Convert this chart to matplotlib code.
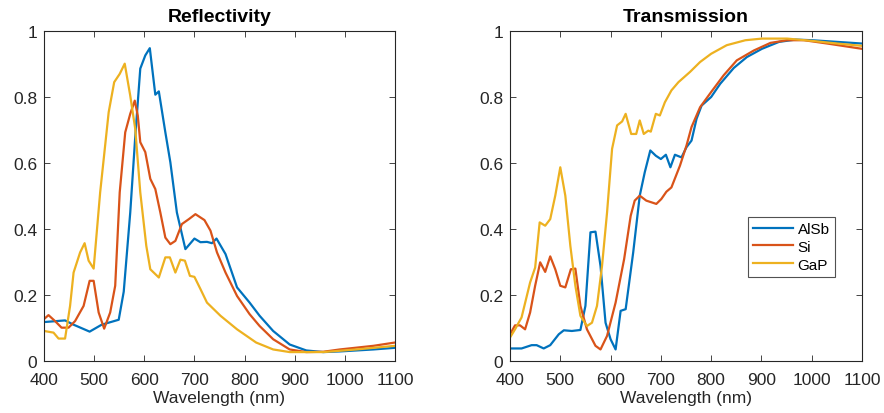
import matplotlib
matplotlib.use("Agg")
import matplotlib.pyplot as plt

plt.rcParams['font.family'] = ['Liberation Sans', 'DejaVu Sans']

# Reflectivity data (wavelength nm, value)
r_alsb_wl = [400, 442, 459, 491, 515, 549, 559, 572, 582, 592, 602, 611, 622, 629, 642, 652, 665, 682,
             700, 712, 725, 735, 744, 762, 785, 810, 830, 857, 890, 923, 957, 990, 1057, 1100]
r_alsb = [0.118, 0.123, 0.11, 0.089, 0.11, 0.125, 0.21, 0.45, 0.68, 0.886, 0.926, 0.948, 0.807, 0.817,
          0.693, 0.602, 0.45, 0.339, 0.371, 0.36, 0.361, 0.357, 0.371, 0.324, 0.223, 0.177, 0.137, 0.091,
          0.05, 0.032, 0.027, 0.029, 0.035, 0.04]

r_si_wl = [400, 409, 422, 435, 449, 462, 479, 491, 499, 509, 520, 532, 542, 551, 562, 572, 581, 587, 592,
           602, 612, 622, 632, 642, 652, 662, 675, 689, 702, 720, 732, 745, 762, 785, 810, 830, 857, 890,
           923, 957, 990, 1057, 1100]
r_si = [0.127, 0.139, 0.121, 0.101, 0.101, 0.121, 0.167, 0.243, 0.243, 0.147, 0.098, 0.147, 0.228, 0.511,
        0.693, 0.749, 0.789, 0.744, 0.663, 0.633, 0.552, 0.521, 0.45, 0.374, 0.354, 0.364, 0.415, 0.43,
        0.445, 0.427, 0.395, 0.329, 0.268, 0.197, 0.142, 0.106, 0.066, 0.035, 0.027, 0.028, 0.035, 0.046,
        0.056]

r_gap_wl = [400, 419, 429, 442, 452, 459, 472, 481, 489, 499, 512, 529, 540, 551, 561, 572, 582, 592, 604,
            612, 629, 642, 651, 662, 672, 681, 691, 700, 712, 725, 752, 785, 823, 857, 890, 957, 1023, 1100]
r_gap = [0.091, 0.086, 0.068, 0.068, 0.167, 0.268, 0.329, 0.357, 0.304, 0.28, 0.511, 0.754, 0.845, 0.87,
         0.901, 0.804, 0.703, 0.511, 0.349, 0.278, 0.253, 0.314, 0.314, 0.268, 0.307, 0.304, 0.258, 0.255,
         0.218, 0.177, 0.137, 0.096, 0.056, 0.035, 0.027, 0.027, 0.035, 0.046]

# Transmission data
t_alsb_wl = [400, 423, 443, 453, 467, 480, 497, 507, 523, 540, 550, 560, 570, 580, 590, 600, 610, 620,
             630, 645, 658, 668, 679, 690, 700, 710, 719, 728, 741, 751, 761, 771, 781, 800, 818, 845, 871,
             901, 935, 968, 1001, 1051, 1100]
t_alsb = [0.038, 0.038, 0.048, 0.048, 0.038, 0.048, 0.081, 0.093, 0.091, 0.094, 0.167, 0.39, 0.392, 0.288,
          0.116, 0.066, 0.035, 0.152, 0.157, 0.329, 0.501, 0.572, 0.638, 0.622, 0.612, 0.625, 0.587, 0.625,
          0.617, 0.648, 0.668, 0.734, 0.774, 0.8, 0.84, 0.888, 0.921, 0.946, 0.967, 0.974, 0.972, 0.967,
          0.962]

t_si_wl = [400, 410, 420, 430, 440, 450, 460, 470, 480, 490, 500, 510, 521, 530, 540, 553, 570, 580, 593,
           610, 627, 640, 648, 658, 671, 691, 701, 711, 721, 738, 751, 761, 778, 800, 825, 851, 885, 918,
           951, 985, 1031, 1100]
t_si = [0.081, 0.108, 0.108, 0.096, 0.147, 0.228, 0.299, 0.27, 0.317, 0.278, 0.228, 0.223, 0.278, 0.28,
        0.167, 0.096, 0.046, 0.035, 0.076, 0.177, 0.309, 0.44, 0.486, 0.501, 0.486, 0.476, 0.491, 0.513,
        0.526, 0.592, 0.653, 0.709, 0.769, 0.815, 0.866, 0.911, 0.941, 0.964, 0.972, 0.972, 0.962, 0.946]

t_gap_wl = [400, 410, 423, 440, 450, 459, 470, 480, 490, 500, 510, 520, 530, 540, 553, 563, 573, 583, 593,
            603, 613, 623, 630, 641, 651, 658, 666, 675, 680, 690, 698, 708, 721, 735, 758, 778, 800, 831,
            868, 901, 951, 1001, 1051, 1100]
t_gap = [0.071, 0.096, 0.132, 0.238, 0.283, 0.42, 0.41, 0.43, 0.501, 0.587, 0.501, 0.349, 0.228, 0.137,
         0.106, 0.116, 0.167, 0.288, 0.45, 0.643, 0.714, 0.726, 0.749, 0.688, 0.688, 0.729, 0.688, 0.698,
         0.695, 0.749, 0.744, 0.784, 0.82, 0.845, 0.876, 0.906, 0.931, 0.957, 0.972, 0.977, 0.977, 0.97,
         0.962, 0.955]

names = ['AlSb', 'Si', 'GaP']
colors = ['#0072BD', '#D95319', '#EDB120']
xticks = [400, 500, 600, 700, 800, 900, 1000, 1100]
yticks = [0, 0.2, 0.4, 0.6, 0.8, 1]
ytick_labels = ['0', '0.2', '0.4', '0.6', '0.8', '1']

fig = plt.figure(figsize=(8.84, 4.14), dpi=100)
ax1 = fig.add_axes([44 / 884, 52 / 414, 351 / 884, 330 / 414])
ax2 = fig.add_axes([510 / 884, 52 / 414, 352 / 884, 330 / 414])

panels = [
    (ax1, 'Reflectivity', [(r_alsb_wl, r_alsb), (r_si_wl, r_si), (r_gap_wl, r_gap)]),
    (ax2, 'Transmission', [(t_alsb_wl, t_alsb), (t_si_wl, t_si), (t_gap_wl, t_gap)]),
]

for ax, title, series in panels:
    for (wl, v), name, c in zip(series, names, colors):
        ax.plot(wl, v, color=c, lw=1.6, label=name)
    ax.set_xlim(400, 1100)
    ax.set_ylim(0, 1)
    ax.set_xticks(xticks)
    ax.set_yticks(yticks)
    ax.set_yticklabels(ytick_labels)
    ax.tick_params(direction='in', top=True, right=True, length=4, width=0.6,
                   labelsize=12.5, colors='#262626')
    ax.tick_params(axis='x', pad=8)
    ax.tick_params(axis='y', pad=5)
    for s in ax.spines.values():
        s.set_linewidth(0.8)
        s.set_color('#262626')
    ax.set_title(title, fontsize=14, fontweight='bold', pad=7)
    ax.set_xlabel('Wavelength (nm)', fontsize=12.5, labelpad=2, color='#262626')

leg = ax2.legend(loc='lower left', bbox_to_anchor=(0.676, 0.255), fontsize=11, frameon=True,
                 fancybox=False, edgecolor='#262626', handlelength=2.6, handletextpad=0.3,
                 borderpad=0.35, labelspacing=0.25, borderaxespad=0)
leg.get_frame().set_linewidth(0.8)

fig.savefig('out.png', dpi=100)
